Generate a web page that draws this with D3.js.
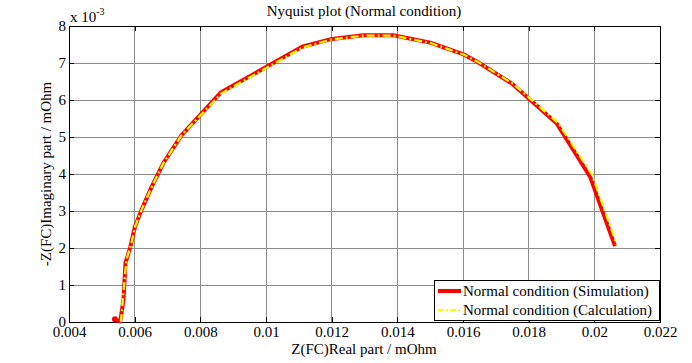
<!DOCTYPE html>
<html><head><meta charset="utf-8">
<script src="https://cdn.jsdelivr.net/npm/d3@7"></script>
<style>body{margin:0;background:#fff;} svg text{font-family:"Liberation Serif","Times New Roman",Times,serif;}</style>
</head><body>
<svg id="c" width="692" height="363"></svg>
<script>
// Real part (mOhm) and imaginary part (x 1e-3 mOhm)
const simX = [0.00540,0.00556,0.00566,0.00572,0.00586,0.00601,0.00621,0.00652,0.00687,0.00743,0.00862,0.01110,0.01195,0.01296,0.01388,0.01500,0.01600,0.01642,0.01748,0.01885,0.01987,0.02063];
const simY = [0.05,0.02,0.60,1.60,2.00,2.58,3.03,3.66,4.29,5.05,6.20,7.44,7.64,7.75,7.75,7.55,7.24,7.04,6.45,5.37,3.93,2.05];
const calX = [0.00558,0.00575,0.00588,0.00602,0.00622,0.00653,0.00688,0.00744,0.00864,0.01112,0.01197,0.01297,0.01389,0.01501,0.01602,0.01645,0.01752,0.01890,0.01993,0.02068];
const calY = [0.00,1.70,2.05,2.60,3.05,3.67,4.30,5.06,6.18,7.42,7.63,7.74,7.74,7.54,7.23,7.03,6.44,5.38,3.98,2.10];
const xTicks = [0.004,0.006,0.008,0.01,0.012,0.014,0.016,0.018,0.02,0.022];
const yTicks = [0,1,2,3,4,5,6,7,8];
const legendLabels = ["Normal condition (Simulation)","Normal condition (Calculation)"];

const FF = "'Liberation Serif','Times New Roman',Times,serif";
const FS = 15;
const svg = d3.select("#c");
const L=69, R=660, T=26, B=322;
const x = d3.scaleLinear().domain([0.004,0.022]).range([L,R]);
const y = d3.scaleLinear().domain([0,8]).range([B,T]);

// grid
const g = svg.append("g");
g.selectAll(".gx").data(xTicks).enter().append("line")
  .attr("x1",d=>x(d)).attr("x2",d=>x(d)).attr("y1",T).attr("y2",B)
  .attr("stroke","#8c8c8c").attr("stroke-width",1).attr("shape-rendering","crispEdges");
g.selectAll(".gy").data(yTicks).enter().append("line")
  .attr("x1",L).attr("x2",R).attr("y1",d=>y(d)).attr("y2",d=>y(d))
  .attr("stroke","#8c8c8c").attr("stroke-width",1).attr("shape-rendering","crispEdges");

// axes with inner ticks
const ax = svg.append("g").attr("transform",`translate(0,${B})`)
  .call(d3.axisBottom(x).tickValues(xTicks).tickSizeInner(-5).tickSizeOuter(0).tickPadding(5).tickFormat(d=>String(+d.toFixed(3))));
const axT = svg.append("g").attr("transform",`translate(0,${T})`)
  .call(d3.axisTop(x).tickValues(xTicks).tickSizeInner(-5).tickSizeOuter(0).tickFormat(""));
const ay = svg.append("g").attr("transform",`translate(${L},0)`)
  .call(d3.axisLeft(y).tickValues(yTicks).tickSizeInner(-5).tickSizeOuter(0).tickPadding(3));
const ayR = svg.append("g").attr("transform",`translate(${R},0)`)
  .call(d3.axisRight(y).tickValues(yTicks).tickSizeInner(-5).tickSizeOuter(0).tickFormat(""));
[ax,axT,ay,ayR].forEach(a=>{
  a.attr("font-family",FF).attr("font-size",FS);
  a.selectAll("path").remove();
  a.selectAll("line").attr("stroke","#000").attr("shape-rendering","crispEdges");
  a.selectAll("text").attr("fill","#000");
});
ax.selectAll("text").attr("dy","0.68em");
ay.selectAll("text").attr("dy","0.3em");

// box
svg.append("rect").attr("x",L).attr("y",T).attr("width",R-L).attr("height",B-T)
  .attr("fill","none").attr("stroke","#000").attr("stroke-width",1).attr("shape-rendering","crispEdges");

// lines
const line = d3.line().x(d=>x(d[0])).y(d=>y(d[1]));
const sim = simX.map((v,i)=>[v,simY[i]]);
const cal = calX.map((v,i)=>[v,calY[i]]);
svg.append("path").datum(sim).attr("d",line).attr("fill","none").attr("stroke","#ff0000").attr("stroke-width",4).attr("stroke-linejoin","round");
svg.append("circle").attr("cx",x(simX[0])).attr("cy",y(simY[0])-1).attr("r",3).attr("fill","#ff0000");
svg.append("path").datum(cal).attr("d",line).attr("fill","none").attr("stroke","#ffff00").attr("stroke-width",2.2).attr("stroke-dasharray","8,3,2,3");

// title & labels
const txt = svg.append("g").attr("font-family",FF).attr("font-size",FS).attr("fill","#000");
txt.append("text").attr("x",364).attr("y",16).attr("text-anchor","middle").text("Nyquist plot (Normal condition)");
txt.append("text").attr("x",364).attr("y",354).attr("text-anchor","middle").text("Z(FC)Real part / mOhm");
txt.append("text").attr("transform",`translate(51,${(T+B)/2}) rotate(-90)`).attr("text-anchor","middle").text("-Z(FC)Imaginary part / mOhm");
const ex = txt.append("text").attr("x",70).attr("y",22);
ex.append("tspan").text("x 10");
ex.append("tspan").attr("dy",-7).attr("font-size",10).text("-3");

// legend
const lg = svg.append("g").attr("font-family",FF).attr("font-size",FS);
lg.append("rect").attr("x",434.5).attr("y",280.5).attr("width",225).attr("height",40).attr("fill","#fff").attr("stroke","#000").attr("stroke-width",1);
lg.append("line").attr("x1",438).attr("x2",461).attr("y1",291).attr("y2",291).attr("stroke","#ff0000").attr("stroke-width",4);
lg.append("line").attr("x1",438).attr("x2",461).attr("y1",310).attr("y2",310).attr("stroke","#ffff00").attr("stroke-width",2.2).attr("stroke-dasharray","6,2,2,2");
lg.selectAll(".lt").data(legendLabels).enter().append("text")
  .attr("x",463).attr("y",(d,i)=>296+i*19).text(d=>d);
</script>
</body></html>
